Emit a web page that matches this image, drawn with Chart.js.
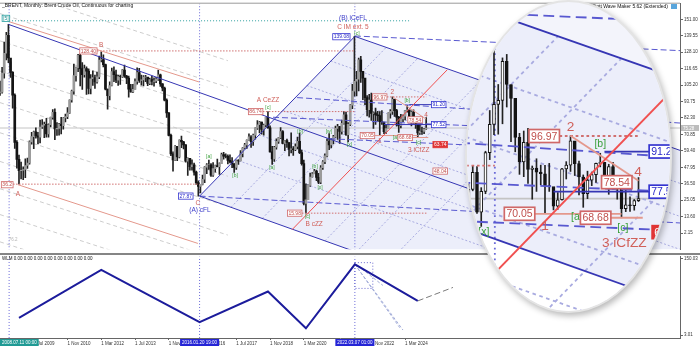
<!DOCTYPE html>
<html>
<head>
<meta charset="utf-8">
<script src="https://cdn.jsdelivr.net/npm/chart.js@4.4.1/dist/chart.umd.min.js"></script>
<style>
    html, body { margin: 0; padding: 0; background: #fff; }
    #wrap { position: relative; width: 700px; height: 350px; overflow: hidden; background: #fff; }
    #main { position: absolute; left: 0; top: 0; }
    #wlm { position: absolute; left: 0; top: 253px; }
    #lens {
        position: absolute; left: 467px; top: 2px; width: 203px; height: 309px;
        border-radius: 50%; overflow: hidden; background: #f3f4fb;
        box-shadow: 0 0 0 2px #e4e4e4, 2px 3px 6px 2px rgba(0, 0, 0, 0.28);
    }
</style>
</head>
<body>
<div id="wrap">
    <canvas id="main" width="700" height="253"></canvas>
    <canvas id="wlm" width="700" height="97"></canvas>
    <div id="lens"><canvas id="zoom" width="203" height="309"></canvas></div>
</div>
<script>
const FONT = '"Liberation Sans", Arial, sans-serif';

// Brent monthly candles, index 0 = Jan 2008 (one row per year)
const closes = [
    91.75, 100.1, 100.3, 113.5, 127.4, 139.8, 124.1, 114.1, 98.2, 65.3, 53.5, 45.6,
    45.9, 46.4, 49.2, 50.9, 65.6, 69.3, 72.6, 69.8, 68.9, 76.0, 77.3, 77.9,
    71.2, 77.6, 82.7, 86.2, 74.6, 75.0, 78.0, 76.9, 82.3, 83.2, 85.9, 94.8,
    101.0, 111.8, 117.4, 125.9, 116.7, 112.5, 116.7, 114.9, 102.8, 109.6, 110.5, 107.4,
    110.9, 122.7, 122.9, 119.5, 102.4, 97.8, 104.9, 114.6, 112.4, 108.7, 111.2, 111.1,
    115.6, 111.4, 110.0, 102.4, 100.4, 102.2, 107.7, 114.0, 108.4, 108.8, 110.8, 110.8,
    106.4, 109.1, 107.8, 108.1, 109.4, 112.4, 106.0, 103.2, 94.7, 85.9, 70.2, 57.3,
    53.0, 62.6, 55.1, 66.8, 65.6, 63.6, 52.2, 54.2, 48.4, 49.6, 44.6, 37.3,
    34.7, 36.0, 39.6, 48.1, 49.7, 49.7, 42.5, 47.0, 49.1, 48.3, 50.5, 56.8,
    55.7, 55.6, 52.8, 51.7, 50.3, 47.9, 52.7, 52.4, 57.5, 61.4, 63.6, 66.9,
    69.1, 65.8, 70.3, 75.2, 77.6, 79.4, 74.3, 77.4, 82.7, 75.5, 58.7, 53.8,
    61.9, 66.0, 68.4, 72.8, 64.5, 66.6, 65.2, 60.4, 60.8, 60.2, 62.4, 66.0,
    58.2, 50.5, 22.7, 25.3, 35.3, 41.2, 43.3, 45.3, 40.9, 37.5, 47.6, 51.8,
    55.9, 66.1, 63.5, 67.3, 69.3, 75.1, 76.3, 73.0, 78.5, 84.4, 70.6, 77.8,
    91.2, 101.0, 107.9, 109.3, 122.8, 114.8, 110.0, 96.5, 88.0, 94.8, 85.4, 85.9,
    84.5, 83.9, 79.8, 79.5, 72.7, 74.9, 85.6, 86.9, 95.3, 87.4, 82.8, 77.0,
    81.7, 83.6, 87.5, 87.9, 81.6, 86.4, 80.7, 78.8, 71.8, 73.2, 72.9, 74.6,
    75.3
];
const highs = [
    98.5, 101.8, 108.0, 117.6, 135.1, 141.9, 147.5, 121.4, 114.6, 99.1, 66.6, 56.4,
    51.6, 48.3, 53.8, 54.4, 66.3, 72.3, 73.2, 75.4, 72.3, 80.8, 81.1, 79.5,
    82.0, 78.3, 83.0, 88.1, 88.7, 79.0, 78.6, 82.7, 82.6, 85.0, 89.5, 94.9,
    101.8, 119.8, 117.8, 126.7, 127.0, 120.8, 119.1, 118.0, 116.6, 112.6, 115.2, 112.1,
    114.2, 125.4, 128.4, 126.3, 119.9, 102.5, 107.5, 117.0, 117.9, 115.6, 112.2, 112.2,
    116.0, 119.2, 112.0, 111.5, 105.8, 105.8, 109.5, 117.3, 116.8, 112.2, 111.8, 112.0,
    110.0, 110.0, 111.4, 110.2, 110.6, 115.7, 112.9, 106.2, 103.8, 95.6, 86.0, 71.1,
    58.7, 63.0, 62.6, 67.1, 69.6, 66.1, 63.8, 54.6, 51.3, 53.1, 50.8, 45.3,
    38.5, 36.1, 42.5, 48.5, 50.5, 52.9, 50.5, 51.2, 49.4, 53.7, 51.0, 57.9,
    58.4, 57.3, 56.6, 56.7, 54.7, 50.5, 52.9, 53.3, 59.5, 61.7, 64.6, 67.1,
    71.3, 70.1, 71.1, 75.5, 80.5, 79.9, 79.4, 78.1, 83.0, 86.7, 76.9, 62.5,
    62.5, 67.8, 68.7, 75.6, 73.5, 66.8, 67.6, 65.1, 71.9, 62.3, 64.2, 68.9,
    71.8, 59.9, 53.0, 36.4, 35.8, 43.9, 44.3, 46.5, 46.0, 43.8, 49.2, 52.6,
    57.4, 67.7, 71.4, 68.0, 70.2, 76.6, 77.8, 76.5, 80.8, 86.7, 86.4, 79.1,
    91.7, 105.8, 139.1, 114.8, 124.0, 125.2, 114.7, 105.6, 97.9, 98.7, 99.6, 86.6,
    89.1, 86.9, 86.8, 87.5, 77.2, 77.4, 85.8, 88.1, 97.06, 93.8, 88.3, 83.5,
    84.8, 84.5, 87.6, 91.0, 84.2, 87.2, 87.9, 81.7, 79.9, 81.2, 75.9, 75.0,
    82.6
];
const lows = [
    84.4, 88.6, 98.0, 99.6, 110.0, 122.7, 120.9, 110.6, 89.2, 61.1, 47.3, 36.2,
    39.8, 39.3, 40.7, 47.1, 50.2, 64.0, 60.9, 68.2, 64.3, 65.0, 75.0, 68.6,
    69.0, 69.0, 76.0, 81.4, 67.2, 70.2, 70.4, 71.1, 74.5, 79.6, 81.8, 85.5,
    93.3, 98.8, 108.0, 114.6, 104.6, 102.2, 110.8, 98.7, 99.0, 99.0, 105.0, 102.8,
    106.5, 109.6, 121.4, 117.9, 101.8, 88.5, 94.9, 104.6, 107.6, 106.9, 105.0, 105.7,
    110.5, 110.5, 106.2, 96.8, 100.2, 100.0, 102.3, 105.8, 107.0, 105.2, 104.7, 107.5,
    104.8, 105.5, 105.3, 104.4, 106.9, 108.4, 104.3, 101.2, 94.2, 82.6, 69.8, 56.0,
    45.2, 52.8, 52.5, 54.5, 61.6, 60.8, 51.5, 42.2, 46.0, 46.0, 42.5, 36.0,
    27.88, 30.0, 35.6, 37.2, 43.5, 46.5, 41.5, 41.5, 44.5, 48.2, 43.0, 52.6,
    53.6, 54.5, 50.3, 51.0, 47.6, 44.4, 46.5, 50.0, 52.4, 55.2, 60.7, 61.0,
    66.6, 61.8, 63.2, 67.5, 74.4, 71.9, 71.0, 70.3, 76.0, 75.1, 58.4, 50.0,
    52.0, 60.6, 64.6, 67.9, 64.2, 59.5, 61.7, 55.9, 58.0, 56.2, 59.5, 60.8,
    57.5, 49.5, 21.7, 15.98, 25.3, 34.7, 41.0, 43.7, 38.7, 36.6, 36.6, 46.5,
    50.4, 55.2, 60.3, 61.5, 64.2, 68.7, 67.4, 64.6, 71.0, 78.0, 70.2, 65.7,
    77.0, 88.8, 97.4, 97.6, 101.2, 107.0, 95.0, 91.5, 83.7, 82.9, 80.6, 75.1,
    77.8, 80.1, 70.1, 77.8, 71.4, 71.6, 74.8, 82.1, 84.7, 83.3, 76.6, 72.3,
    75.3, 79.8, 80.9, 86.3, 80.3, 76.8, 78.5, 75.1, 68.68, 70.8, 70.9, 71.3,
    74.3
];
const lastPrice = 75.3;

// axis ticks
const priceTicks = [2.15, 13.60, 25.05, 36.50, 47.95, 59.40, 70.85, 82.30, 93.75, 105.20, 116.65, 128.10, 139.55, 151.00];
const wlmTicks = [3.01, 150.03];
const dateTicks = [18, 34, 50, 66, 82, 98, 114, 130, 146, 162, 178, 194];
const dateLabels = ['1 Jul 2009', '1 Nov 2010', '1 Mar 2012', '1 Jul 2013', '1 Nov 2014', '1 Mar 2016',
    '1 Jul 2017', '1 Nov 2018', '1 Mar 2020', '1 Jul 2021', '1 Nov 2022', '1 Mar 2024'];

// drawn objects, segments as [month0, price0, month1, price1]
const blueSolid = [[6, 147.5, 230, 30.0], [96.6, 27.88, 170.2, 139.13], [170.2, 139.13, 330, 56.8],
    [96.6, 27.88, 180, -15.9], [184, 77.7, 206.5, 77.7], [196, 91.6, 206.5, 91.6]];
const blueDashed = [[96.6, 27.88, 325, 9.1], [142.8, 96.5, 325, 78.7], [170.2, 139.4, 335, 128.5],
    [131.4, 82.8, 230, 76.6], [158.4, 67.8, 230, 63.1]];
const salmonSolid = [[5.8, 149.6, 96.3, 107.4], [10.5, 35.8, 95.8, -5.1], [188, 97.06, 204, 81.5],
    [179.6, 70.05, 200, 70.05], [197.5, 68.68, 205, 68.68]];
const salmonDotted = [[8.2, 36.2, 96.6, 36.2], [48, 129.0, 170.2, 129.0], [126.6, 86.74, 170.2, 86.74],
    [145.1, 15.98, 204.6, 15.98], [185.4, 96.97, 204, 96.97]];
const redSolid = [[140.4, 4.44, 214, 115.9]];
const tealDotted = [[6.3, 150, 196, 150]];
const grayDashed = [[2, 173.5, 110, 122.2], [2, 155, 110, 103.7], [2, 136, 110, 84.7], [2, 115, 110, 63.7],
    [2, 93, 110, 41.7], [2, 72, 110, 20.7], [2, 52, 110, 0.7], [2, 33, 110, -18.3], [2, 15, 110, -36.3], [2, -4, 110, -55.3]];
const channelDotted = [[158.7, 122.0, 330, 33.8], [147.4, 104.9, 330, 10.8], [136.0, 87.6, 330, -12.2],
    [124.7, 70.5, 330, -35.2], [113.4, 53.4, 330, -58.2],
    [111.5, 20.1, 185.0, 131.4], [126.3, 12.3, 199.9, 123.7], [156.0, -3.3, 229.8, 108.3],
    [170.9, -11.1, 244.7, 100.6], [185.7, -18.9, 259.6, 92.9]];
const crossT = [6.32, 96.6, 170.2];
const channelShape = [[96.6, 27.88], [170.2, 139.13], [330, 56.8], [330, -94.7]];
const lensWhite = [[150, 72.0], [230, 30.0], [230, -60], [150, -60]];

// WLM pane: zigzag pivots
const wlmT = [11, 50, 96.6, 129, 147, 170.2, 200];
const wlmP = [36.2, 128.4, 27.88, 86.74, 15.98, 139.13, 68.68];
const wlmNextT = [200, 216.7];
const wlmNextP = [68.68, 94.7];
const wlmFan = [[170.2, 139.13, 193, 12.6], [170.2, 139.13, 191.5, 17], [171.5, 136.7, 183.5, 98.5]];
const wlmBox = [[170.2, 142.4], [178.7, 142.4], [178.7, 92.8], [170.2, 92.8], [170.2, 142.4]];
const dateFlags = [[6.32, '2008.07.11 00:00', '#1f9a94'], [96.6, '2016.01.20 19:00', '#2424d6'], [170.2, '2022.03.07 01:00', '#2424d6']];

// chart labels: [month, price, text, style, align]
const tags = [
    [4.8, 151.7, '[5]', 'teal', 'c'], [8.2, 35.8, '36.2', 'rbox', 'r'], [10.5, 29.5, 'A', 'wave', 'c'],
    [48, 129.0, '128.40', 'rbox', 'r'], [50, 133.5, 'B', 'wave', 'c'],
    [95.8, 23, 'C', 'wave', 'c'], [96.8, 18.3, '(A) cFL', 'bwave', 'c'], [93.5, 27.88, '27.87', 'bbox', 'r'],
    [101, 55.6, '[a]', 'green', 'c'], [113.4, 42.6, '[b]', 'green', 'c'],
    [129, 94.6, 'A CeZZ', 'wave', 'c'], [129, 89.6, '[c]', 'green', 'c'], [126.6, 86.74, '86.74', 'rbox', 'r'],
    [130.9, 48.1, '[a]', 'green', 'c'], [144.2, 73.3, '[b]', 'green', 'c'], [157.9, 73.3, '[w]', 'green', 'c'],
    [151.3, 48.8, '[b]', 'green', 'c'], [153.7, 33.8, '[x]', 'green', 'c'],
    [145.1, 15.98, '15.98', 'rbox', 'r'], [147.8, 13.6, '[c]', 'green', 'c'], [150.9, 8.3, 'B cZZ', 'wave', 'c'],
    [167.6, 64, '[x]', 'green', 'c'],
    [169.3, 151.7, '(B) iCeFL', 'bwave', 'c'], [169.3, 145.7, 'C IM ext. 5', 'wave', 'c'],
    [167.9, 138.9, '139.08', 'bbox', 'r'], [171.2, 141.6, '[c]', 'green', 'c'],
    [185.4, 96.97, '96.97', 'rbox', 'r'], [188, 100.3, '2', 'wave', 'c'],
    [179.6, 70.05, '70.05', 'rbox', 'r'], [182, 66, '1', 'wave', 'c'],
    [189.5, 69, '[a]', 'green', 'c'], [197.5, 68.68, '68.68', 'rbox', 'r'],
    [195, 94.5, '[b]', 'green', 'c'], [200.3, 65.3, '[c]', 'green', 'c'],
    [195.4, 60, '3 iCfZZ', 'wave', 'l'], [203.9, 84.5, '4', 'wave', 'c'],
    [195.3, 81, '78.54', 'rbox', 'l'], [206.5, 91.6, '91.20', 'bbox', 'l'], [206.5, 77.7, '77.52', 'bbox', 'l'],
    [207.2, 63.7, '63.74', 'rfill', 'l'], [207.2, 45.3, '48.04', 'rbox', 'l'],
    [8.2, -2.4, '76.2', 'gray', 'c']
];
const tagStyles = {
    rbox: { size: 5, color: '#c0504d', border: '#d06868', fill: '#fff' },
    bbox: { size: 5, color: '#2828c8', border: '#3434d0', fill: '#fff' },
    rfill: { size: 5, color: '#fff', border: '#e03434', fill: '#e03434' },
    teal: { size: 5, color: '#1d8c8c', border: '#26a0a0', fill: '#fff' },
    wave: { size: 6.5, color: '#d0605a' },
    bwave: { size: 6.5, color: '#3a3ac8' },
    green: { size: 5, color: '#3aa03a' },
    gray: { size: 4.5, color: '#b4b4b4' }
};

function pts(list) {
    return list.map(q => ({ x: q[0], y: q[1] }));
}

function candleSets(lens) {
    const wick = [], body = [], fills = [];
    closes.forEach((c, i) => {
        const o = i > 0 ? closes[i - 1] : c; // open taken as previous close
        wick.push({ x: i, y: [lows[i], highs[i]] });
        body.push({ x: i, y: [o, c] });
        fills.push(c >= o ? (lens ? '#ffffff' : '#9a9a9a') : '#141414');
    });
    return [
        { type: 'bar', data: wick, backgroundColor: '#222', barThickness: 1, grouped: false, order: 41 },
        {
            type: 'bar', data: body, backgroundColor: fills, borderColor: '#141414', borderWidth: lens ? 1 : 0,
            borderSkipped: false, barThickness: lens ? 3 : 2, grouped: false, order: 40
        }
    ];
}

function lineSets(k, lens) {
    const sets = [];
    const add = (list, color, w, dash, order) => list.forEach(s => sets.push({
        type: 'line', data: [{ x: s[0], y: s[1] }, { x: s[2], y: s[3] }],
        borderColor: color, borderWidth: w * k, borderDash: dash.map(d => d * k),
        pointRadius: 0, fill: false, order: order
    }));
    sets.push({ type: 'line', data: pts(channelShape), borderColor: 'transparent', borderWidth: 0,
        backgroundColor: '#eceefa', fill: 'shape', pointRadius: 0, order: 100 });
    if (lens) {
        sets.push({ type: 'line', data: pts(lensWhite), borderColor: 'transparent', borderWidth: 0,
            backgroundColor: '#ffffff', fill: 'shape', pointRadius: 0, order: 99 });
    }
    add([[2, lastPrice, 330, lastPrice]], '#c4c4c4', 1, [], 95);
    add(grayDashed, '#cdcdcd', 1, [4, 3], 90);
    add(channelDotted, '#a9abe0', 1, [2, 2], 80);
    add(crossT.map(t => [t, -60, t, 200]), '#6a6ad8', 1, [1, 2], 70);
    add(tealDotted, '#30a0a0', 1, [1, 2], 30);
    add(salmonDotted, '#d07070', 1, [1.5, 1.5], 30);
    add(blueDashed, '#5858d0', 1, [6, 3], 25);
    add(salmonSolid, '#e4988c', 1, [], 20);
    add(blueSolid, '#3636b4', 1, [], 15);
    add(redSolid, '#f05050', 1, [], 5);
    return sets;
}

function drawTags(chart, k) {
    const { ctx, scales: { x, y } } = chart;
    ctx.save();
    ctx.textBaseline = 'middle';
    ctx.textAlign = 'left';
    tags.forEach(([t, p, text, kind, align]) => {
        const st = tagStyles[kind];
        const size = st.size * k;
        ctx.font = size + 'px ' + FONT;
        const w = ctx.measureText(text).width;
        const pad = st.border ? k : 0;
        const px = x.getPixelForValue(t), py = y.getPixelForValue(p);
        let left = px - w / 2 - pad;
        if (align === 'r') left = px - w - 2 * pad;
        if (align === 'l') left = px;
        if (st.border) {
            const h = size + pad * 1.2;
            ctx.fillStyle = st.fill;
            ctx.fillRect(left, py - h / 2, w + 2 * pad, h);
            ctx.strokeStyle = st.border;
            ctx.lineWidth = 0.8 * k;
            ctx.strokeRect(left, py - h / 2, w + 2 * pad, h);
        }
        ctx.fillStyle = st.color;
        ctx.fillText(text, left + pad, py + 0.3 * k);
    });
    ctx.restore();
}

const marks = {
    id: 'marks',
    afterDatasetsDraw(chart, args, opts) {
        drawTags(chart, opts.k);
    },
    afterDraw(chart, args, opts) {
        if (!opts.main) return;
        const { ctx, chartArea: a, scales: { y } } = chart;
        ctx.save();
        // pane frame top
        ctx.strokeStyle = '#9a9a9a';
        ctx.lineWidth = 1;
        ctx.beginPath();
        ctx.moveTo(0, a.top - 0.5);
        ctx.lineTo(a.right, a.top - 0.5);
        ctx.stroke();
        ctx.font = '5px ' + FONT;
        ctx.textBaseline = 'middle';
        ctx.fillStyle = '#111';
        ctx.textAlign = 'left';
        ctx.fillText('_BRENT, Monthly: Brent Crude Oil, Continuous for charting', 2, 5.5);
        ctx.textAlign = 'right';
        ctx.fillText('Elliott Wave Maker 5.62 (Extended)', 668, 7);
        ctx.fillStyle = '#5aa6dc';
        ctx.fillRect(671, 4, 6, 5);
        // last price marker on the axis
        const py = y.getPixelForValue(lastPrice);
        ctx.fillStyle = '#bdbdbd';
        ctx.fillRect(a.right + 1, py - 3, 18, 6);
        ctx.fillStyle = '#fff';
        ctx.textAlign = 'left';
        ctx.font = '4.5px ' + FONT;
        ctx.fillText('75.28', a.right + 3, py + 0.3);
        ctx.restore();
    }
};

const wlmMarks = {
    id: 'wlmMarks',
    beforeDraw(chart) {
        const { ctx } = chart;
        ctx.save();
        ctx.fillStyle = '#858585';
        ctx.fillRect(0, 0, 700, 2);
        ctx.restore();
    },
    afterDraw(chart) {
        const { ctx, chartArea: a, scales: { x } } = chart;
        ctx.save();
        ctx.font = '4.5px ' + FONT;
        ctx.textBaseline = 'middle';
        ctx.fillStyle = '#111';
        ctx.fillText('WLM 0.00 0.00 0.00 0.00 0.00 0.00 0.00 0.00', 2, 6);
        dateFlags.forEach(([t, text, color]) => {
            const w = ctx.measureText(text).width + 4;
            const left = Math.max(0, x.getPixelForValue(t) - w / 2);
            ctx.fillStyle = color;
            ctx.fillRect(left, a.bottom + 1, w, 7);
            ctx.fillStyle = '#fff';
            ctx.fillText(text, left + 2, a.bottom + 4.7);
        });
        ctx.restore();
    }
};

const axisFont = { size: 4.5, family: FONT };

// main price pane
new Chart(document.getElementById('main'), {
    type: 'bar',
    data: { datasets: [...candleSets(false), ...lineSets(1, false)] },
    options: {
        responsive: false, animation: false, devicePixelRatio: 1,
        layout: { padding: { top: 2, left: 0, right: 0, bottom: 0 } },
        plugins: { legend: { display: false }, tooltip: { enabled: false }, marks: { k: 1, main: true } },
        scales: {
            x: { type: 'linear', display: false, min: 2, max: 324.3, offset: false },
            y: {
                type: 'linear', position: 'right', min: -9.19, max: 161.9,
                afterBuildTicks: s => { s.ticks = priceTicks.map(v => ({ value: v })); },
                afterFit: s => { s.width = 20; },
                ticks: { font: axisFont, color: '#333', padding: 1, callback: v => v.toFixed(2) },
                grid: { drawOnChartArea: false, tickLength: 3, color: '#666' },
                border: { color: '#666' }
            }
        }
    },
    plugins: [marks]
});

// magnifier
new Chart(document.getElementById('zoom'), {
    type: 'bar',
    data: { datasets: [...candleSets(true), ...lineSets(1.8, true)] },
    options: {
        responsive: false, animation: false, devicePixelRatio: 1,
        layout: { padding: 0 },
        plugins: { legend: { display: false }, tooltip: { enabled: false }, marks: { k: 2.1, main: false } },
        scales: {
            x: { type: 'linear', display: false, min: 163.65, max: 211.41, offset: false },
            y: { type: 'linear', display: false, min: 36.42, max: 143.34 }
        }
    },
    plugins: [marks]
});

// WLM pane
const wlmSets = [
    { data: wlmT.map((t, i) => ({ x: t, y: wlmP[i] })), borderColor: '#1c1c9c', borderWidth: 2, order: 1 },
    { data: wlmNextT.map((t, i) => ({ x: t, y: wlmNextP[i] })), borderColor: '#7a7a7a', borderWidth: 1, borderDash: [6, 3], order: 2 },
    { data: pts(wlmBox), borderColor: '#6a6ad0', borderWidth: 1, borderDash: [1, 2], order: 3 }
];
wlmFan.forEach(s => wlmSets.push({ data: [{ x: s[0], y: s[1] }, { x: s[2], y: s[3] }],
    borderColor: '#a2acd8', borderWidth: 1, borderDash: [3, 2], order: 4 }));
crossT.forEach(t => wlmSets.push({ data: [{ x: t, y: -20 }, { x: t, y: 200 }],
    borderColor: '#6a6ad8', borderWidth: 1, borderDash: [1, 2], order: 5 }));
wlmSets.forEach(d => { d.pointRadius = 0; d.fill = false; });

new Chart(document.getElementById('wlm'), {
    type: 'line',
    data: { datasets: wlmSets },
    options: {
        responsive: false, animation: false, devicePixelRatio: 1,
        layout: { padding: { top: 3, left: 0, right: 0, bottom: 0 } },
        plugins: { legend: { display: false }, tooltip: { enabled: false } },
        scales: {
            x: {
                type: 'linear', min: 2, max: 324.3, offset: false,
                afterBuildTicks: s => { s.ticks = dateTicks.map(v => ({ value: v })); },
                afterFit: s => { s.height = 12; },
                ticks: { font: axisFont, color: '#333', padding: 1, align: 'start', autoSkip: false, maxRotation: 0,
                    callback: (v, i) => dateLabels[i] },
                grid: { drawOnChartArea: false, tickLength: 2, color: '#666' },
                border: { color: '#666' }
            },
            y: {
                type: 'linear', position: 'right', min: -2.72, max: 153.85,
                afterBuildTicks: s => { s.ticks = wlmTicks.map(v => ({ value: v })); },
                afterFit: s => { s.width = 20; },
                ticks: { font: axisFont, color: '#333', padding: 1, callback: v => v.toFixed(2) },
                grid: { drawOnChartArea: false, tickLength: 3, color: '#666' },
                border: { color: '#666' }
            }
        }
    },
    plugins: [wlmMarks]
});
</script>
</body>
</html>
